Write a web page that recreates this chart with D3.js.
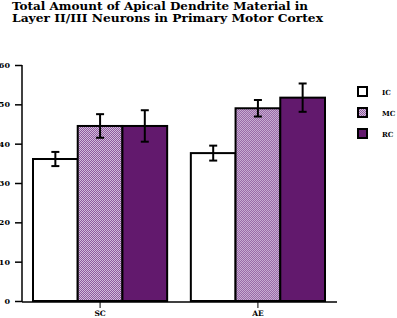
<!DOCTYPE html>
<html>
<head>
<meta charset="utf-8">
<script src="https://cdn.jsdelivr.net/npm/d3@7"></script>
<style>
  body { margin: 0; background: #fff; }
  text { font-family: "DejaVu Serif", "Liberation Serif", serif; font-weight: bold; fill: #000; }
</style>
</head>
<body>
<div id="chart"></div>
<script>
const groups = ["SC", "AE"]
const series = ["IC", "MC", "RC"]
const means = {
  IC: [36.1, 37.6],
  MC: [44.5, 49.0],
  RC: [44.5, 51.7]
}
const errors = {
  IC: [1.8, 1.9],
  MC: [3.0, 2.1],
  RC: [4.0, 3.6]
}
const yTicks = [0, 10, 20, 30, 40, 50, 60]
const titleLines = [
  "Total Amount of Apical Dendrite Material in",
  "Layer II/III Neurons in Primary Motor Cortex"
]

const width = 397
const height = 318
const plotLeft = 22
const plotRight = 337
const plotTop = 65
const plotBottom = 301

const svg = d3.select('#chart')
  .append('svg')
  .attr('width', width)
  .attr('height', height)

const defs = svg.append('defs')
const pat = defs.append('pattern')
  .attr('id', 'checker')
  .attr('width', 2)
  .attr('height', 2)
  .attr('patternUnits', 'userSpaceOnUse')
pat.append('rect').attr('width', 2).attr('height', 2).attr('fill', '#d2bcdb')
pat.append('rect').attr('width', 1).attr('height', 1).attr('fill', '#8e5a9e')
pat.append('rect').attr('x', 1).attr('y', 1).attr('width', 1).attr('height', 1).attr('fill', '#8e5a9e')

const fills = { IC: '#ffffff', MC: 'url(#checker)', RC: '#62196d' }

// title
svg.selectAll('.title')
  .data(titleLines)
  .enter()
  .append('text')
  .attr('class', 'title')
  .attr('x', 12)
  .attr('y', (d, i) => 10 + i * 12)
  .attr('font-size', 11)
  .attr('textLength', (d, i) => i === 0 ? 296 : 311)
  .attr('lengthAdjust', 'spacingAndGlyphs')
  .text(d => d)

const yScale = d3.scaleLinear()
  .domain([0, 60])
  .range([plotBottom, plotTop])

const x0 = d3.scaleBand()
  .domain(groups)
  .range([33, 325])
  .paddingInner(0.15)
  .paddingOuter(0)

const x1 = d3.scaleBand()
  .domain(series)
  .range([0, x0.bandwidth()])

// bars
const g = svg.selectAll('.group')
  .data(groups)
  .enter()
  .append('g')
  .attr('transform', d => `translate(${x0(d)},0)`)

series.forEach(s => {
  g.append('rect')
    .attr('x', x1(s))
    .attr('y', (d, i) => yScale(means[s][i]))
    .attr('width', x1.bandwidth())
    .attr('height', (d, i) => plotBottom - yScale(means[s][i]))
    .attr('fill', fills[s])
    .attr('stroke', '#000')
    .attr('stroke-width', 2)
})

// error bars
series.forEach(s => {
  const cx = x1(s) + x1.bandwidth() / 2
  g.append('line')
    .attr('x1', cx).attr('x2', cx)
    .attr('y1', (d, i) => yScale(means[s][i] + errors[s][i]))
    .attr('y2', (d, i) => yScale(means[s][i] - errors[s][i]))
    .attr('stroke', '#000').attr('stroke-width', 2)
  ;[1, -1].forEach(sign => {
    g.append('line')
      .attr('x1', cx - 4).attr('x2', cx + 4)
      .attr('y1', (d, i) => yScale(means[s][i] + sign * errors[s][i]))
      .attr('y2', (d, i) => yScale(means[s][i] + sign * errors[s][i]))
      .attr('stroke', '#000').attr('stroke-width', 2)
  })
})

// y axis
const yAxis = d3.axisLeft(yScale)
  .tickValues(yTicks)
  .tickSize(7)
  .tickPadding(5)
  .tickSizeOuter(0)
svg.append('g')
  .attr('transform', `translate(${plotLeft},0)`)
  .call(yAxis)
  .call(ax => ax.select('.domain').attr('stroke-width', 1.5).attr('d', `M0,${plotTop}V${plotBottom + 1}`))
  .call(ax => ax.selectAll('.tick line').attr('stroke-width', 1.5))
  .call(ax => ax.selectAll('text')
    .attr('font-family', '"DejaVu Serif", serif')
    .attr('font-weight', 'bold')
    .attr('font-size', 8))

// x axis
const xAxis = d3.axisBottom(x0)
  .tickSize(6)
  .tickPadding(3)
  .tickSizeOuter(0)
svg.append('g')
  .attr('transform', `translate(0,${plotBottom + 1})`)
  .call(xAxis)
  .call(ax => ax.select('.domain').attr('stroke-width', 1.5).attr('d', `M${plotLeft},0H${plotRight}`))
  .call(ax => ax.selectAll('.tick line').attr('stroke-width', 1))
  .call(ax => ax.selectAll('text')
    .attr('font-family', '"DejaVu Serif", serif')
    .attr('font-weight', 'bold')
    .attr('font-size', 7.5))

// legend
const legend = svg.selectAll('.legend')
  .data(series)
  .enter()
  .append('g')
  .attr('transform', (d, i) => `translate(358,${87 + i * 21})`)
legend.append('rect')
  .attr('width', 9)
  .attr('height', 9)
  .attr('fill', d => fills[d])
  .attr('stroke', '#000')
  .attr('stroke-width', 2)
legend.append('text')
  .attr('x', 24)
  .attr('y', 7.5)
  .attr('font-size', 7)
  .attr('font-weight', 'normal')
  .text(d => d)
</script>
</body>
</html>
